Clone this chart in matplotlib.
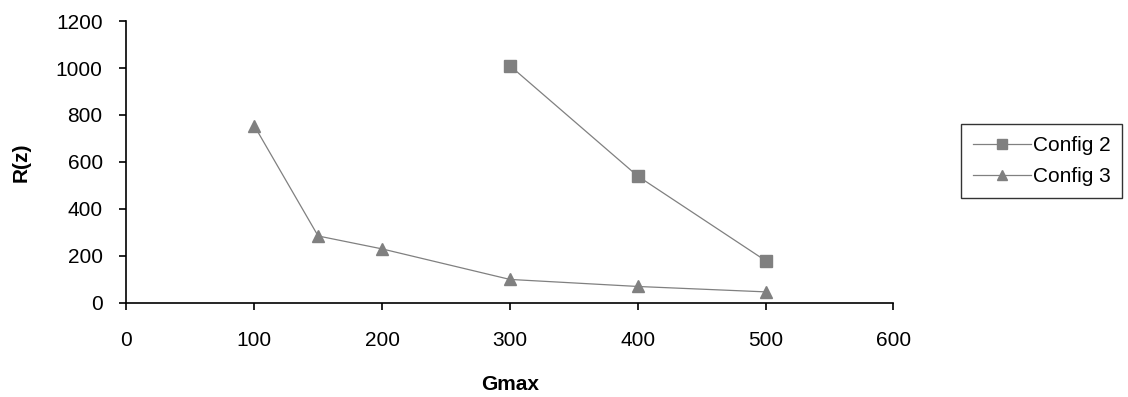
import matplotlib
matplotlib.use("Agg")
import matplotlib.pyplot as plt

plt.rcParams['font.family'] = ['Liberation Sans', 'DejaVu Sans']

# Data
gmax_cfg2 = [300, 400, 500]
rz_cfg2 = [1010, 540, 180]
gmax_cfg3 = [100, 150, 200, 300, 400, 500]
rz_cfg3 = [755, 285, 230, 100, 70, 47]
x_ticks = [0, 100, 200, 300, 400, 500, 600]
y_ticks = [0, 200, 400, 600, 800, 1000, 1200]

fig = plt.figure(figsize=(11.28, 3.97), dpi=100)
ax = fig.add_axes([0.112, 0.237, 0.68, 0.71])

gray = '#808080'
ax.plot(gmax_cfg2, rz_cfg2, color=gray, lw=0.9, marker='s', ms=9,
        markerfacecolor=gray, markeredgecolor=gray, label='Config 2')
ax.plot(gmax_cfg3, rz_cfg3, color=gray, lw=0.9, marker='^', ms=9,
        markerfacecolor=gray, markeredgecolor=gray, label='Config 3')

ax.set_xlim(0, 600)
ax.set_ylim(0, 1200)
ax.set_xticks(x_ticks)
ax.set_yticks(y_ticks)
ax.tick_params(labelsize=15, direction='out', length=5, width=1.2)
ax.tick_params(axis='y', pad=12)
ax.tick_params(axis='x', pad=15)
ax.spines['top'].set_visible(False)
ax.spines['right'].set_visible(False)
ax.spines['left'].set_linewidth(1.2)
ax.spines['bottom'].set_linewidth(1.2)

ax.set_xlabel('Gmax', fontsize=15, fontweight='bold', labelpad=18)
ax.set_ylabel('R(z)', fontsize=15, fontweight='bold', labelpad=18)

leg = ax.legend(loc='center left', bbox_to_anchor=(0.852, 0.594),
                bbox_transform=fig.transFigure, fontsize=15,
                frameon=True, fancybox=False, edgecolor='black',
                handlelength=2.8, borderpad=0.55, labelspacing=0.6,
                handletextpad=0.1, borderaxespad=0, markerscale=0.8)
leg.get_frame().set_linewidth(1.0)

fig.savefig('out.png', dpi=100)
